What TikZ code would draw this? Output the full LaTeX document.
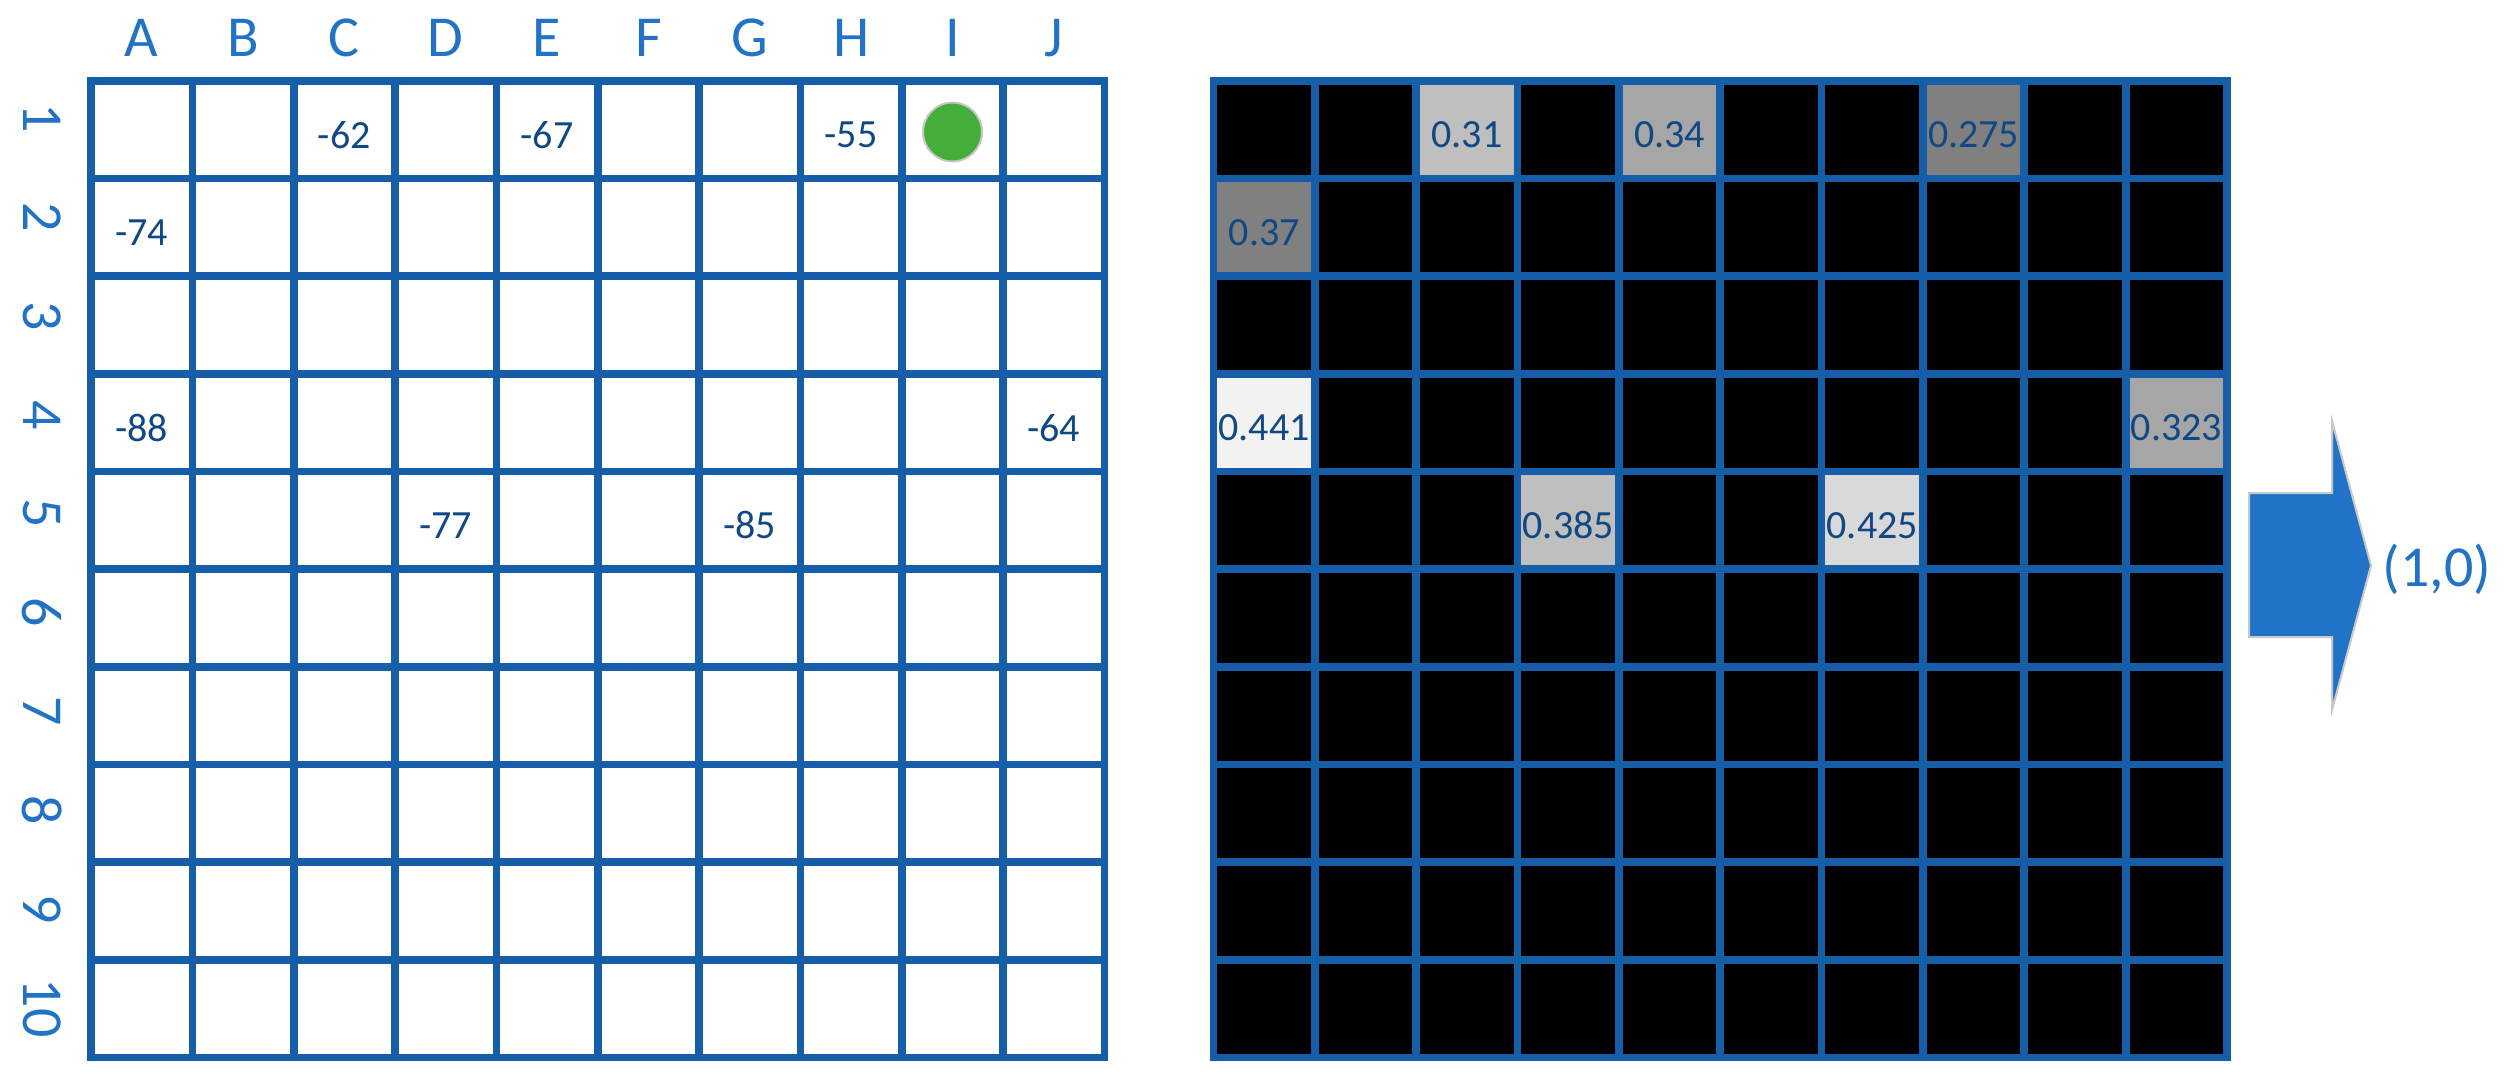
\documentclass[tikz,border=0pt]{standalone}
\usepackage{fontspec}
\setmainfont{Carlito}
\usepackage{xcolor}
\usepackage{tikz}
\usetikzlibrary{positioning}
\definecolor{gridblue}{RGB}{23,94,168}
\definecolor{labelblue}{RGB}{34,114,198}
\definecolor{numblue}{RGB}{16,72,132}
\definecolor{dotgreen}{RGB}{68,174,58}
\definecolor{ringgray}{RGB}{200,200,200}
\definecolor{arrowblue}{RGB}{32,115,198}
\tikzstyle{gridline} = [draw=gridblue, line width=2.3pt]
\tikzstyle{collabel} = [text=labelblue, inner sep=0pt, font=\fontsize{17.4}{20}\selectfont]
\tikzstyle{rowlabel} = [collabel, rotate=-90]
\tikzstyle{cellval}  = [text=numblue, inner sep=0pt, font=\fontsize{12}{14}\selectfont]
\tikzstyle{blockarrow} = [fill=arrowblue, draw=ringgray, line width=0.6pt]
\newcommand{\cw}{101.35}
\newcommand{\ch}{97.65}

\begin{document}
\begin{tikzpicture}[x=0.3pt, y=-0.3pt]
    \useasboundingbox (0,0) rectangle (2508,1083);

    \foreach \l [count=\i] in {A,B,C,D,E,F,G,H,I,J}
        \node (col\l) at ({91+(\i-0.5)*\cw}, 38) [collabel] {\l};
    \foreach \r in {1,...,10}
        \node (row\r) at (42, {118+(\r-1)*98.9}) [rowlabel] {\r};

    \fill[black] (1213.5,81) rectangle ++(10*\cw, 10*\ch);
    \foreach \c/\r/\g/\s/\w in {3/1/25/-62/0.31, 5/1/35/-67/0.34, 8/1/50/-55/0.275,
                                1/2/50/-74/0.37, 1/4/5/-88/0.441, 10/4/35/-64/0.323,
                                4/5/25/-77/0.385, 7/5/15/-85/0.425} {
        \fill[black!\g] ({1213.5+(\c-1)*\cw}, {81+(\r-1)*\ch}) rectangle ++(\cw, \ch);
        \node (rssi\c-\r) at ({91+(\c-0.5)*\cw}, {86+(\r-0.5)*\ch}) [cellval] {\s};
        \node (wt\c-\r) at ({1213.5+(\c-0.5)*\cw}, {86+(\r-0.5)*\ch}) [cellval] {\w};
    }

    \foreach \x in {91, 1213.5} {
        \foreach \i in {0,...,10} {
            \draw[gridline] ({\x+\i*\cw}, 81) -- ++(0, 10*\ch);
            \draw[gridline] (\x, {81+\i*\ch}) -- ++(10*\cw, 0);
        }
        \draw[gridline, line cap=rect] (\x,81) rectangle ++(10*\cw, 10*\ch);
    }

    \node (dot) at (952.5,132) [circle, fill=dotgreen, draw=ringgray, line width=0.6pt,
                                minimum size=17.7pt, inner sep=0pt] {};

    \draw[blockarrow] (2249,493) -- (2332,493) -- (2332,421) -- (2371,565.5)
                      -- (2332,710) -- (2332,637) -- (2249,637) -- cycle;
    \node (out) at (2437,569.5) [collabel] {(1,0)};
\end{tikzpicture}
\end{document}
